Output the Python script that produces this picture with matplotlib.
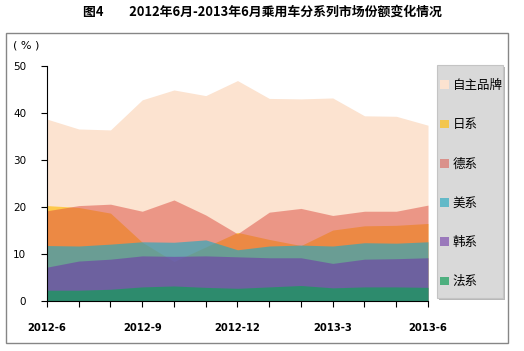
import numpy as np
import matplotlib
matplotlib.use("Agg")
import matplotlib.pyplot as plt
from matplotlib.patches import Rectangle

# monthly market share by brand origin (%), 2012-6 .. 2013-6
months = ["2012-6", "2012-7", "2012-8", "2012-9", "2012-10", "2012-11", "2012-12",
          "2013-1", "2013-2", "2013-3", "2013-4", "2013-5", "2013-6"]
zizhu = [38.7, 36.6, 36.4, 42.8, 44.9, 43.7, 46.9, 43.1, 43.0, 43.2, 39.4, 39.3, 37.4]
rixi = [20.3, 19.9, 18.7, 12.5, 8.4, 11.5, 14.6, 13.1, 11.8, 15.1, 16.0, 16.1, 16.5]
dexi = [19.2, 20.3, 20.6, 19.1, 21.5, 18.3, 14.3, 18.9, 19.7, 18.2, 19.1, 19.1, 20.4]
meixi = [11.8, 11.7, 12.1, 12.6, 12.5, 13.0, 10.9, 11.7, 11.9, 11.7, 12.4, 12.3, 12.6]
hanxi = [7.2, 8.5, 8.9, 9.6, 9.5, 9.6, 9.4, 9.2, 9.2, 8.0, 8.9, 9.0, 9.2]
faxi = [2.3, 2.3, 2.5, 3.0, 3.2, 2.9, 2.7, 3.0, 3.3, 2.8, 3.0, 3.0, 2.9]

series = [
    ("自主品牌", zizhu, "#FCE3D0", 1.0),
    ("日系", rixi, "#FFBE13", 0.7),
    ("德系", dexi, "#DC4B3E", 0.5),
    ("美系", meixi, "#24A9C0", 0.65),
    ("韩系", hanxi, "#703AA7", 0.6),
    ("法系", faxi, "#139E59", 0.7),
]

cjk = ["Noto Sans CJK SC", "DejaVu Sans"]

fig = plt.figure(figsize=(5.24, 3.51), dpi=100)
ax = fig.add_axes([47 / 524, 1 - 301 / 351, (428 - 47) / 524, (301 - 66) / 351])

x = np.arange(len(months))
handles = []
for name, vals, col, a in series:
    h = ax.fill_between(x, 0, vals, color=col, alpha=a, lw=0, label=name)
    handles.append(h)

ax.set_xlim(0, len(months) - 1)
ax.set_ylim(0, 50)
ax.set_yticks(range(0, 51, 10))
ax.set_xticks(x)
ax.set_xticklabels([m if i % 3 == 0 else "" for i, m in enumerate(months)],
                   fontsize=7.2, fontweight="bold", family="DejaVu Sans")
ax.tick_params(axis="x", direction="out", length=4, pad=12, color="black")
ax.tick_params(axis="y", direction="out", length=4, pad=11, labelsize=7.5, color="black")
for s in ["top", "right"]:
    ax.spines[s].set_visible(False)
ax.spines["left"].set_color("black")
ax.spines["bottom"].set_color("black")
ax.patch.set_alpha(0)

# outer chart border
fig.patches.append(Rectangle((5.5 / 524, 1 - 343 / 351), (508 - 5.5) / 524, (343 - 32.5) / 351,
                             transform=fig.transFigure, fill=False, edgecolor="#868686", lw=1))

# legend box
fig.patches.append(Rectangle((439 / 524, 1 - 300 / 351), 66 / 524, 233 / 351,
                             transform=fig.transFigure, facecolor="#B8B8B8", edgecolor="none", zorder=1))
fig.patches.append(Rectangle((437 / 524, 1 - 298 / 351), 66 / 524, 233 / 351,
                             transform=fig.transFigure, facecolor="#D9D9D9", edgecolor="#C4C4C4", lw=0.8, zorder=2))

leg = fig.legend(handles=handles, loc="upper left", bbox_to_anchor=(440 / 524, 1 - 79 / 351),
                 frameon=False, prop={"family": cjk, "size": 9}, labelspacing=2.1,
                 handlelength=0.7, handleheight=0.7, handletextpad=0.3, borderpad=0, borderaxespad=0)
leg.set_zorder(5)

fig.text(262 / 524, 1 - 12 / 351, "图4　　2012年6月-2013年6月乘用车分系列市场份额变化情况",
         ha="center", va="center", fontsize=9.3, fontweight="bold", family=cjk)
fig.text(13 / 524, 1 - 46 / 351, "( % )", ha="left", va="center", fontsize=8, family="DejaVu Sans")

fig.savefig("out.png", dpi=100)
